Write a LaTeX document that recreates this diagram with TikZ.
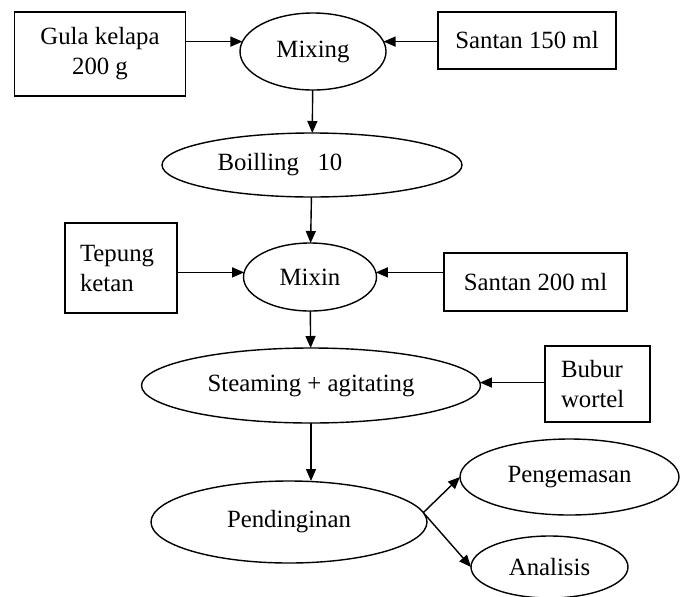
\documentclass[tikz,border=0pt]{standalone}
\usepackage{fontspec}
\setmainfont{Liberation Serif}
\usetikzlibrary{shapes.geometric,arrows.meta}
\begin{document}
\begin{tikzpicture}[x=0.5pt,y=-0.5pt,
    every node/.style={font=\fontsize{12.4}{15}\selectfont,inner sep=0pt,outer sep=0pt},
    box/.style={draw,line width=0.7pt,rectangle,align=center},
    oval/.style={draw,line width=0.7pt,ellipse},
    arr/.style={-{Triangle[length=6pt,width=5pt]},line width=0.7pt}]
      \useasboundingbox (0,0) rectangle (686,596);
      \draw
        (100,54) node[box,minimum width=85.5pt,minimum height=42pt] (gula){Gula kelapa\\200 g}
        (313,51.5) node[oval,minimum width=73pt,minimum height=38.5pt] (mixing){Mixing}
        (527,40.5) node[box,minimum width=89pt,minimum height=28.5pt] (santanA){Santan 150 ml}
        (312,165) node[oval,minimum width=150pt,minimum height=32pt] (boilling){Boilling\ \ \ 10\hspace*{32pt}}
        (121,268) node[box,minimum width=56pt,minimum height=45pt,text width=41pt,align=left] (tepung){Tepung\\ketan}
        (310,277) node[oval,minimum width=66.5pt,minimum height=34pt] (mixin){Mixin}
        (535.5,282) node[box,minimum width=91.5pt,minimum height=29pt] (santanB){Santan 200 ml}
        (311,385.5) node[oval,minimum width=169.5pt,minimum height=37.5pt] (steaming){Steaming + agitating}
        (597.5,384) node[box,minimum width=52.5pt,minimum height=38pt,text width=36.5pt,align=left] (bubur){Bubur\\wortel}
        (289,522) node[oval,minimum width=138pt,minimum height=41pt] (pending){Pendinginan}
        (569.5,477) node[oval,minimum width=109.5pt,minimum height=38pt] (pengemasan){Pengemasan}
        (549.5,567) node[oval,minimum width=78.5pt,minimum height=31pt] (analisis){Analisis};
      \begin{scope}[arr]
        \draw (gula.east |- mixing.172) to (mixing.172);
        \draw (santanA.west |- mixing.8) to (mixing.8);
        \draw (mixing) to (boilling);
        \draw (boilling) to (mixin);
        \draw (tepung.east |- mixin.176) to (mixin.176);
        \draw (santanB.west |- mixin.4) to (mixin.4);
        \draw (mixin) to (steaming);
        \draw (bubur.west |- steaming.1) to (steaming.1);
        \draw (steaming) to (steaming |- pending.north);
        \draw (pending.4) to (pengemasan.west);
        \draw (pending.4) to (analisis.west);
      \end{scope}
    \end{tikzpicture}
\end{document}
